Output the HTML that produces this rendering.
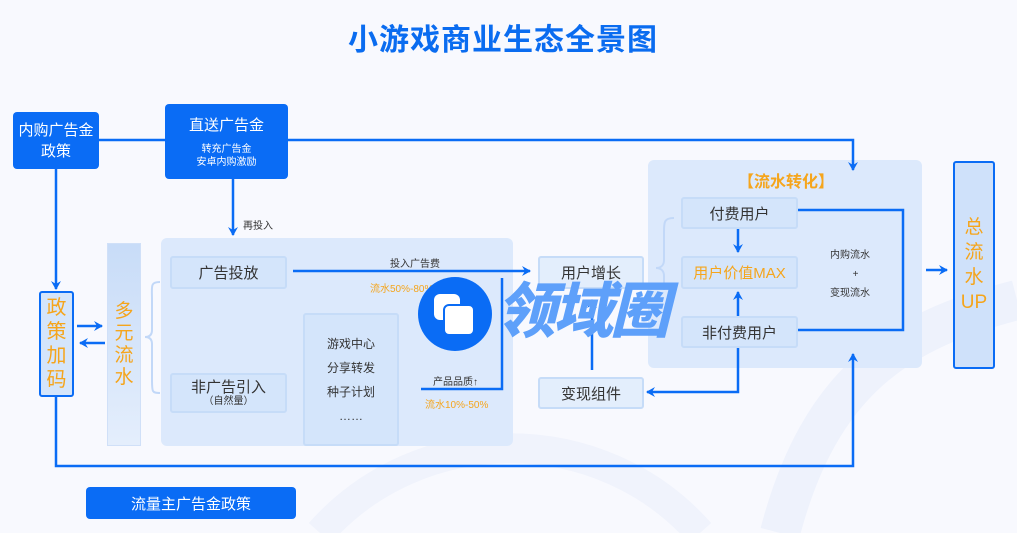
<!DOCTYPE html>
<html><head><meta charset="utf-8"><style>
body{margin:0;width:1017px;height:533px;overflow:hidden;background:#f8f9fe;font-family:"Liberation Sans","Noto Sans CJK SC",sans-serif;position:relative}
.a{position:absolute;box-sizing:border-box;display:flex;align-items:center;justify-content:center;text-align:center}
.blue{background:#0a6cf5;color:#fff;border-radius:4px}
.lb{background:#d4e5fb;border:2px solid #c6dcf8;border-radius:3px;color:#333;font-size:15px}
.or{color:#f5a51c}
.t{position:absolute;white-space:nowrap}
</style></head><body>
<svg style="position:absolute;left:0;top:0" width="1017" height="533">
<path d="M780 533 C820 380 900 330 1017 300" stroke="#eef2fc" stroke-width="40" fill="none"/>
<path d="M320 533 C420 420 600 420 700 533" stroke="#f0f3fc" stroke-width="30" fill="none"/>
</svg>
<div class="t" style="left:348px;top:15px;font-size:30px;font-weight:bold;color:#0a6cf0;letter-spacing:1px">小游戏商业生态全景图</div>

<div class="a" style="left:161px;top:238px;width:352px;height:208px;background:#dce9fc;border-radius:6px"></div>
<div class="a" style="left:648px;top:160px;width:274px;height:208px;background:#dce9fc;border-radius:6px"></div>

<svg style="position:absolute;left:0;top:0" width="1017" height="533" fill="none" stroke="#0a6cf5" stroke-width="2.5">
<defs><marker id="m" markerWidth="10" markerHeight="10" refX="8" refY="5" orient="auto" markerUnits="userSpaceOnUse"><path d="M0 0 L9 5 L0 10 L3 5 Z" fill="#0a6cf5" stroke="none"/></marker></defs>
<path d="M99 140 H165"/>
<path d="M288 140 H853 V170" marker-end="url(#m)"/>
<path d="M56 169 V289" marker-end="url(#m)"/>
<path d="M233 179 V235" marker-end="url(#m)"/>
<path d="M77 326 H102" marker-end="url(#m)"/>
<path d="M105 343 H80" marker-end="url(#m)"/>
<path d="M293 271 H530" marker-end="url(#m)"/>
<path d="M421 389 H502 V278"/>
<path d="M592 370 V300" marker-end="url(#m)"/>
<path d="M738 229 V252" marker-end="url(#m)"/>
<path d="M738 316 V292" marker-end="url(#m)"/>
<path d="M797 210 H903 V330 H797"/>
<path d="M926 270 H947" marker-end="url(#m)"/>
<path d="M738 347 V392 H647" marker-end="url(#m)"/>
<path d="M56 397 V466 H853 V354" marker-end="url(#m)"/>
<path d="M160 282 C150 282 152 286 152 300 V330 C152 336 148 337 145 337 C148 337 152 338 152 344 V380 C152 392 152 393 160 393" stroke="#c2d8f8" stroke-width="2"/>
<path d="M674 218 C664 218 664 222 664 232 V260 C664 266 660 268 656 268 C660 268 664 270 664 276 V290" stroke="#c2d8f8" stroke-width="2"/>
</svg>

<div class="a blue" style="left:13px;top:112px;width:86px;height:57px;font-size:15px;line-height:21px">内购广告金<br>政策</div>
<div class="a blue" style="left:165px;top:104px;width:123px;height:75px;flex-direction:column"><div style="font-size:15px">直送广告金</div><div style="font-size:10px;line-height:13px;margin-top:8px">转充广告金<br>安卓内购激励</div></div>
<div class="t" style="left:243px;top:217px;font-size:10px;color:#333">再投入</div>

<div class="a" style="left:39px;top:291px;width:35px;height:106px;background:#d4e5fb;border:2px solid #0a6cf5;border-radius:3px;font-size:20px;line-height:24px;color:#f5a51c">政<br>策<br>加<br>码</div>
<div class="a" style="left:107px;top:243px;width:34px;height:203px;background:linear-gradient(#c8dcf8,#e4eefc);border:1px solid #d0e0f8;font-size:19px;line-height:22px;color:#f5a51c">多<br>元<br>流<br>水</div>

<div class="a lb" style="left:170px;top:256px;width:117px;height:33px">广告投放</div>
<div class="a lb" style="left:170px;top:373px;width:117px;height:40px;flex-direction:column;line-height:16px">非广告引入<div style="font-size:10px;line-height:11px">（自然量）</div></div>
<div class="a lb" style="left:303px;top:313px;width:96px;height:133px;font-size:12px;line-height:24px;flex-direction:column">游戏中心<br>分享转发<br>种子计划<br>……</div>
<div class="t" style="left:390px;top:255px;font-size:10px;color:#333">投入广告费</div>
<div class="t or" style="left:370px;top:280px;font-size:10px">流水50%-80%</div>
<div class="t" style="left:433px;top:373px;font-size:10px;color:#333">产品品质↑</div>
<div class="t or" style="left:425px;top:396px;font-size:10px">流水10%-50%</div>

<div class="a lb" style="left:538px;top:256px;width:106px;height:33px;background:#e3eefc">用户增长</div>
<div class="a lb" style="left:538px;top:377px;width:106px;height:32px;background:#e3eefc">变现组件</div>

<div class="t or" style="left:738px;top:168px;font-size:16px;font-weight:bold">【流水转化】</div>
<div class="a lb" style="left:681px;top:197px;width:117px;height:32px">付费用户</div>
<div class="a lb" style="left:681px;top:256px;width:117px;height:33px;color:#f5a51c">用户价值MAX</div>
<div class="a lb" style="left:681px;top:316px;width:117px;height:32px">非付费用户</div>
<div class="t" style="left:830px;top:246px;font-size:10px;color:#333;text-align:center;line-height:19px">内购流水<br>&nbsp;&nbsp;&nbsp;&nbsp;+<br>变现流水</div>

<div class="a" style="left:953px;top:161px;width:42px;height:208px;background:#cfe1fa;border:2px solid #0a6cf5;border-radius:3px;font-size:19px;line-height:25px;color:#f5a51c">总<br>流<br>水<br>UP</div>

<div class="a blue" style="left:86px;top:487px;width:210px;height:32px;font-size:15px">流量主广告金政策</div>

<div style="position:absolute;left:418px;top:277px;width:74px;height:74px;border-radius:50%;background:#0a6cf5"></div>
<div style="position:absolute;left:434px;top:294px;width:26px;height:26px;border-radius:6px;background:#fff"></div>
<div style="position:absolute;left:443px;top:304px;width:28px;height:28px;border-radius:6px;background:#fff;border:2px solid #0a6cf5"></div>
<div class="t" style="left:496px;top:276px;font-size:60px;font-weight:900;font-style:italic;color:#5ea0fa;letter-spacing:-3px;line-height:72px">领域圈</div>
</body></html>
